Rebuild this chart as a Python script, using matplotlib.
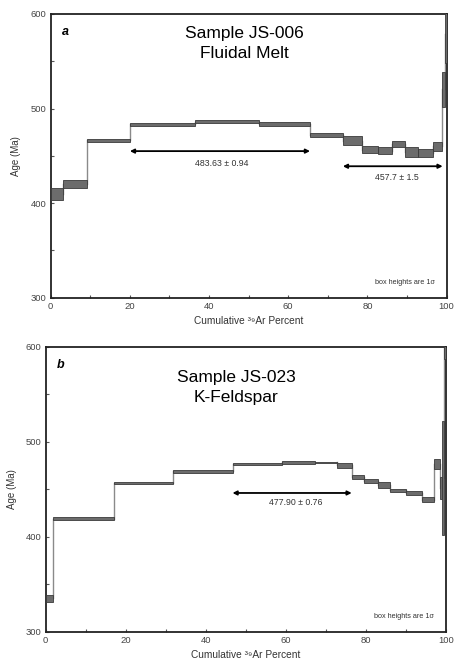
import numpy as np
import matplotlib
matplotlib.use("Agg")
import matplotlib.pyplot as plt
from matplotlib.ticker import MultipleLocator

plt.rcParams['font.family'] = ['Liberation Sans', 'DejaVu Sans']

# panel a: Sample JS-006, step edges (cumulative %) and 1 sigma box limits (Ma)
edges_a = [0, 3.0, 9.2, 20.0, 36.4, 52.6, 65.5, 73.8, 78.7, 82.6, 86.2, 89.6, 92.7, 96.5, 98.9, 99.5, 100]
lo_a = [403, 416, 465, 482, 484.5, 481.5, 470, 461.5, 452.5, 452, 459.5, 448.5, 449, 455.5, 502, 548]
hi_a = [416, 424, 468, 485, 487.5, 485.5, 474, 470.5, 460.5, 459, 466, 459.5, 457, 465, 539, 610]
plateaus_a = [(20.0, 65.5, 455, "483.63 \u00b1 0.94", 43.3, 442),
              (73.8, 99.0, 439, "457.7 \u00b1 1.5", 87.5, 427.5)]
title_a = ["Sample JS-006", "Fluidal Melt"]

# panel b: Sample JS-023
edges_b = [0, 1.9, 17.1, 31.9, 46.7, 59.1, 67.4, 72.8, 76.5, 79.7, 83.0, 86.1, 90.0, 94.1, 97.1, 98.5, 99.2, 99.6, 100]
lo_b = [331, 417.5, 455, 467, 475, 477, 477.5, 472.5, 460.5, 456, 451.5, 447, 443.5, 436, 471.5, 440, 402, 587]
hi_b = [339, 420.5, 457.5, 470.5, 477.7, 479.5, 479, 477.7, 464.5, 460.5, 457.5, 450.5, 448.5, 442, 482, 463, 522, 610]
plateaus_b = [(46.7, 76.5, 446, "477.90 \u00b1 0.76", 62.4, 435.5)]
title_b = ["Sample JS-023", "K-Feldspar"]


def draw_spectrum(ax, edges, lo, hi, plateaus, title, letter, title_pos, ylabel_pad):
    edges = np.array(edges)
    lo = np.array(lo)
    hi = np.array(hi)
    mid = (lo + hi) / 2
    widths = np.diff(edges)

    # connecting vertical lines between the boxes
    for i in range(len(mid) - 1):
        ax.plot([edges[i + 1], edges[i + 1]], [mid[i], mid[i + 1]], color="#8a8a8a", lw=1.0, zorder=2)

    ax.bar(edges[:-1], hi - lo, width=widths, bottom=lo, align="edge",
           color="#6c6c6c", edgecolor="#3a3a3a", linewidth=0.6, zorder=3)

    for x0, x1, y, label, lx, ly in plateaus:
        ax.annotate("", xy=(x1, y), xytext=(x0, y),
                    arrowprops=dict(arrowstyle="<|-|>", color="black", lw=1.3,
                                    mutation_scale=6, shrinkA=0, shrinkB=0))
        ax.text(lx, ly, label, ha="center", va="center", fontsize=6.3, color="#333333")

    tx, ty1, ty2 = title_pos
    ax.text(tx, ty1, title[0], ha="center", va="center", fontsize=12.5)
    ax.text(tx, ty2, title[1], ha="center", va="center", fontsize=12.5)
    ax.text(3.8, 581, letter, ha="center", va="center", fontsize=9, fontweight="bold", style="italic")
    ax.text(89.5, 316, "box heights are 1\u03c3", ha="center", va="center", fontsize=5.2, color="#333333")

    ax.set_xlim(0, 100)
    ax.set_ylim(300, 600)
    ax.xaxis.set_major_locator(MultipleLocator(20))
    ax.xaxis.set_minor_locator(MultipleLocator(10))
    ax.yaxis.set_major_locator(MultipleLocator(100))
    ax.yaxis.set_minor_locator(MultipleLocator(50))
    ax.tick_params(which="both", direction="in", length=2.5, width=0.8, colors="#555555",
                   labelsize=6.8, labelcolor="#444444", pad=3)
    for s in ax.spines.values():
        s.set_linewidth(1.3)
        s.set_color("#222222")
    ax.set_xlabel("Cumulative \u00b3\u2079Ar Percent", fontsize=7.3, color="#333333", labelpad=4)
    ax.set_ylabel("Age (Ma)", fontsize=7, color="#333333", labelpad=ylabel_pad)


fig = plt.figure(figsize=(4.54, 6.66), dpi=100)
ax1 = fig.add_axes([0.1117, 0.553, 0.872, 0.426])
ax2 = fig.add_axes([0.1007, 0.0515, 0.881, 0.428])

draw_spectrum(ax1, edges_a, lo_a, hi_a, plateaus_a, title_a, "a", (48.8, 579.6, 558.4), 7)
draw_spectrum(ax2, edges_b, lo_b, hi_b, plateaus_b, title_b, "b", (47.6, 567.6, 546.0), 6)

fig.savefig("out.png", dpi=100)
